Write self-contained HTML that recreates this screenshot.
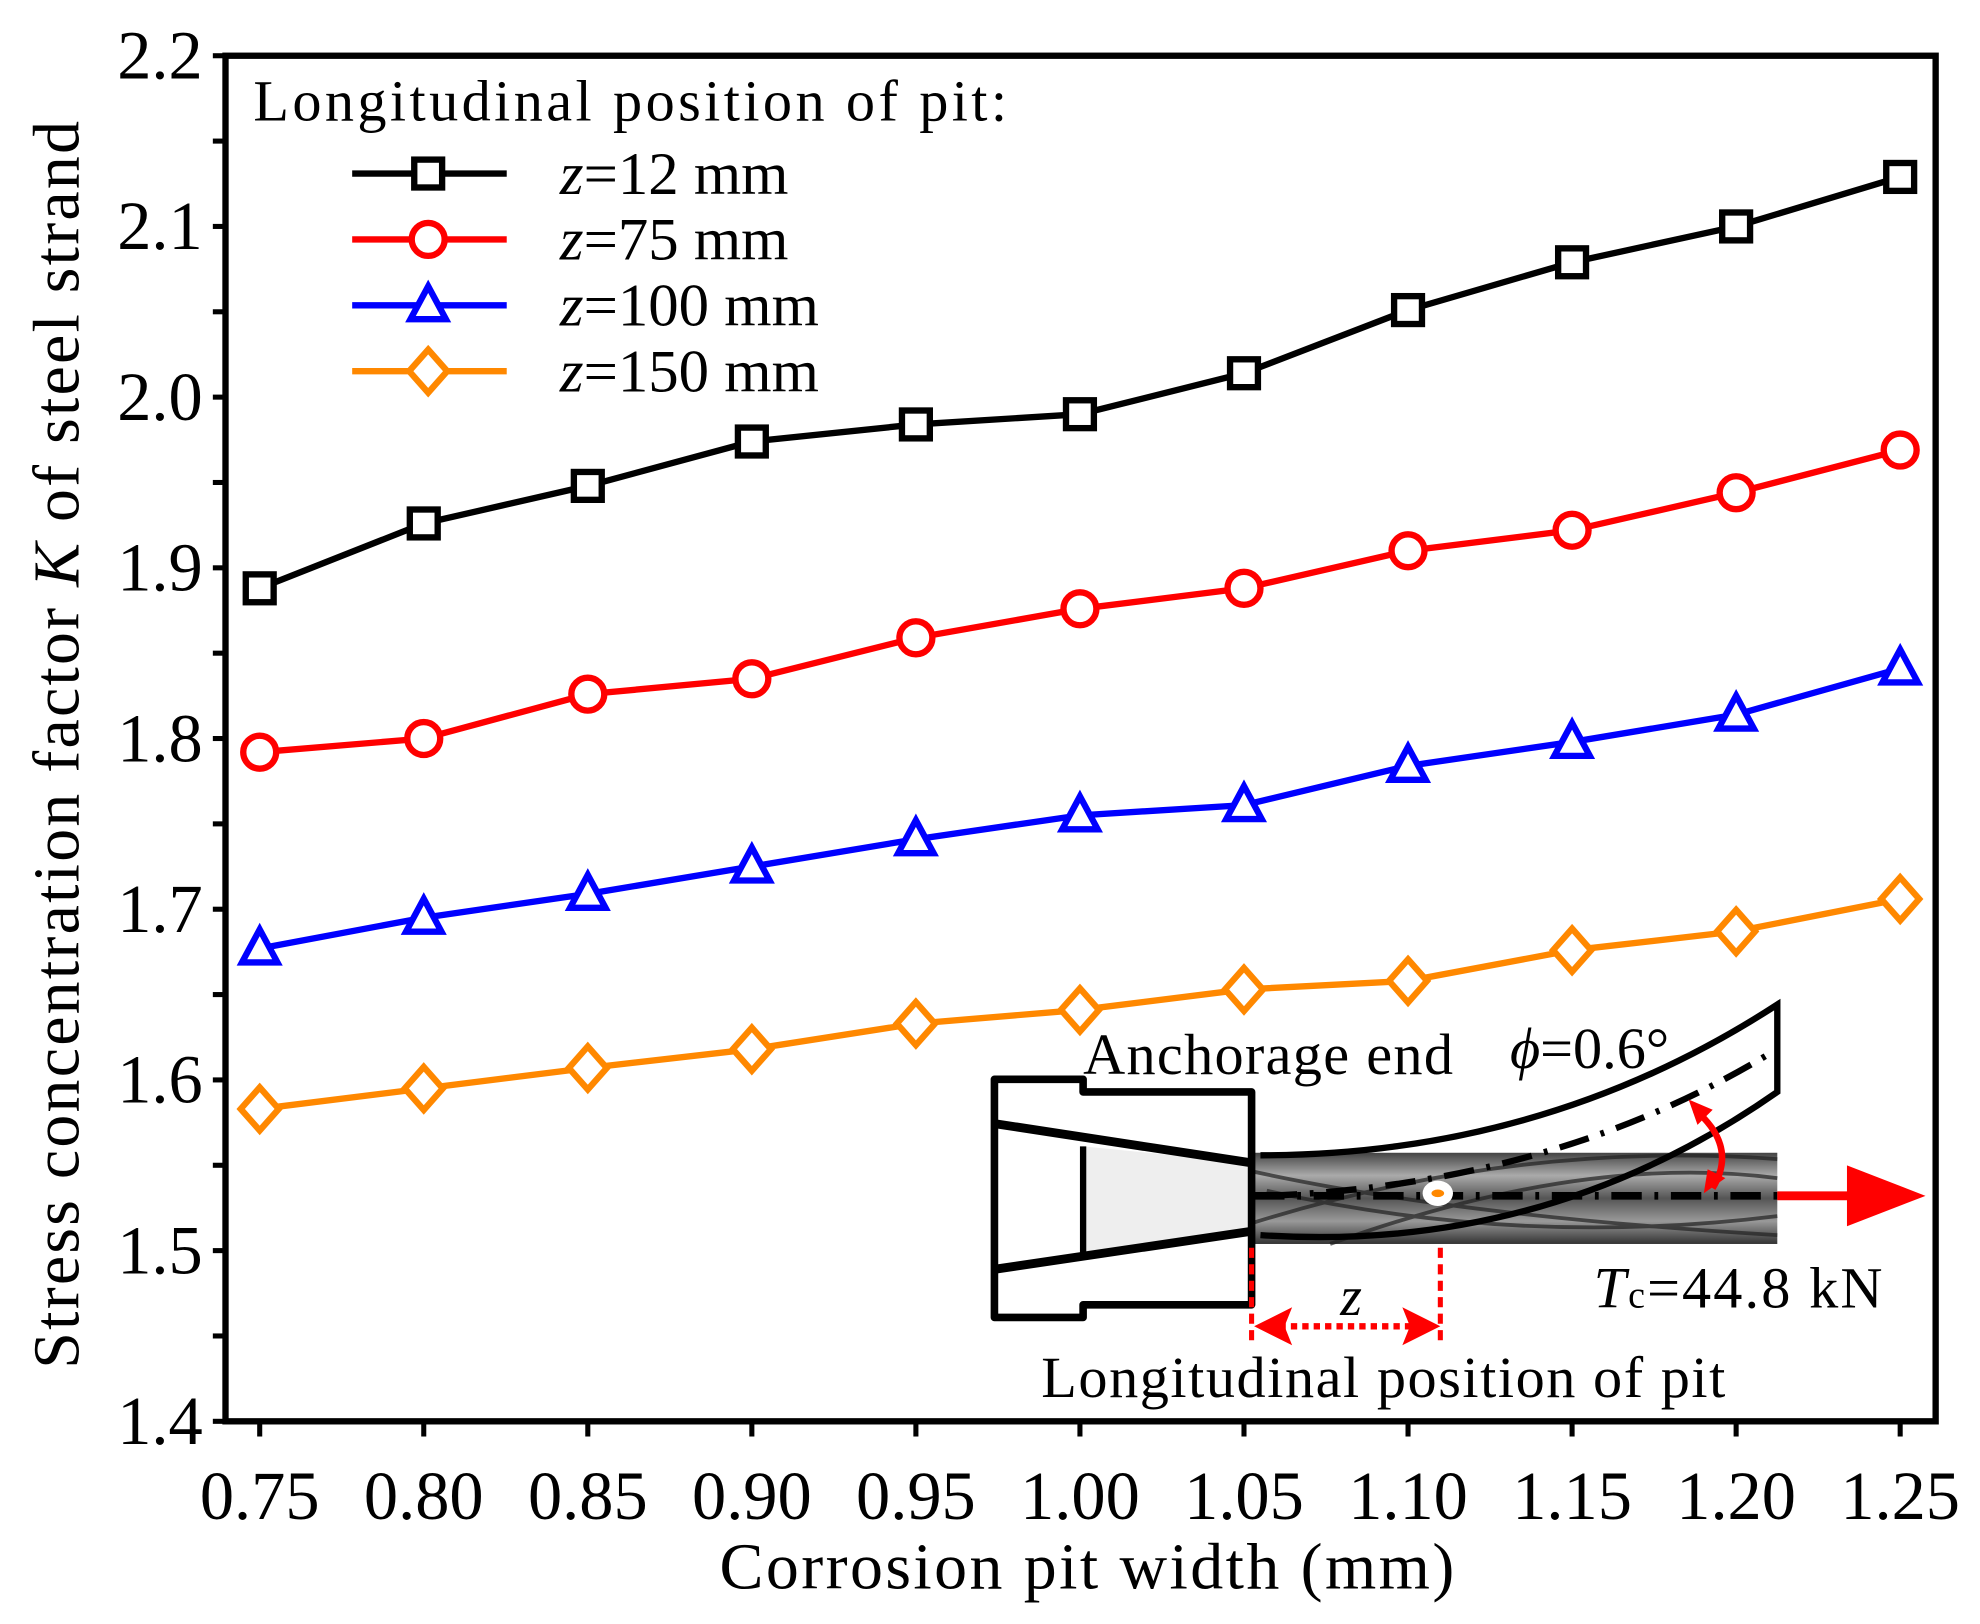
<!DOCTYPE html>
<html><head><meta charset="utf-8"><style>
html,body{margin:0;padding:0;background:#fff}
svg{display:block}
text{font-family:"Liberation Serif",serif;fill:#000}
</style></head><body>
<svg id="chart" width="1980" height="1624" viewBox="0 0 1563 1282" xmlns="http://www.w3.org/2000/svg">
<g id="plot"></g>
<g id="legend">
 <text x="200" y="95" font-size="46" textLength="595" lengthAdjust="spacing">Longitudinal position of pit:</text>
</g>
<g id="inset">
 <defs>
  <linearGradient id="strandG" x1="0" y1="0" x2="0" y2="1">
   <stop offset="0" stop-color="#444"/><stop offset="0.25" stop-color="#aaa"/><stop offset="0.5" stop-color="#555"/><stop offset="0.75" stop-color="#999"/><stop offset="1" stop-color="#333"/>
  </linearGradient>
 </defs>
 <rect x="990" y="910" width="413" height="72" fill="url(#strandG)"/>
 <g stroke="#222" stroke-width="3" fill="none" opacity="0.7">
  <path d="M990 925 Q1150 960 1403 975"/><path d="M990 965 Q1200 900 1403 915"/><path d="M1050 982 Q1250 910 1403 930"/><path d="M1000 940 Q1200 985 1403 960"/>
 </g>
 <polygon points="855,905 988,918 988,972 855,993" fill="#eee"/>
 <path d="M855 862 L855 852 L785 852 L785 1040 L855 1040 L855 1030 L988 1030 L988 862 Z" fill="none" stroke="#000" stroke-width="6" stroke-linejoin="round"/>
 <line x1="785" y1="887" x2="988" y2="918" stroke="#000" stroke-width="7"/>
 <line x1="785" y1="1002" x2="988" y2="972" stroke="#000" stroke-width="7"/>
 <line x1="855" y1="905" x2="855" y2="993" stroke="#000" stroke-width="5"/>
 <path d="M995 912 Q1220 912 1403 793 L1403 862 Q1220 990 995 975" fill="none" stroke="#000" stroke-width="5"/>
 <path d="M1000 944 Q1230 935 1403 828" fill="none" stroke="#000" stroke-width="5" stroke-dasharray="24 10 3 10"/>
 <line x1="990" y1="944" x2="1403" y2="944" stroke="#000" stroke-width="6" stroke-dasharray="24 10 3 10"/>
 <ellipse cx="1135" cy="942" rx="12" ry="10" fill="#fff"/>
 <ellipse cx="1135" cy="942" rx="5" ry="3" fill="#f80"/>
 <g><line x1="1403" y1="944" x2="1465" y2="944" stroke="#f00" stroke-width="7"/><polygon points="1458,920 1520,944 1458,968" fill="#f00"/></g>
 <path d="M1338 876 Q1372 905 1352 938" fill="none" stroke="#f00" stroke-width="5"/>
 <polygon points="1333,868 1352,876 1340,888" fill="#f00"/><polygon points="1345,942 1362,930 1348,923" fill="#f00"/>
 <line x1="988" y1="985" x2="988" y2="1062" stroke="#f00" stroke-width="4" stroke-dasharray="8 5"/>
 <line x1="1137" y1="985" x2="1137" y2="1062" stroke="#f00" stroke-width="4" stroke-dasharray="8 5"/>
 <line x1="1010" y1="1047" x2="1115" y2="1047" stroke="#f00" stroke-width="5" stroke-dasharray="5 4"/>
 <polygon points="990,1047 1020,1032 1014,1047 1020,1062" fill="#f00"/><polygon points="1137,1047 1107,1032 1113,1047 1107,1062" fill="#f00"/>
 <text x="1058" y="1038" font-size="44" font-style="italic">z</text>
 <text x="855" y="848" font-size="46" textLength="292" lengthAdjust="spacing">Anchorage end</text>
 <text x="1192" y="843" font-size="46"><tspan font-style="italic">ϕ</tspan>=0.6°</text>
 <text x="1258" y="1032" font-size="46" textLength="228" lengthAdjust="spacing"><tspan font-style="italic">T</tspan><tspan font-size="30">c</tspan>=44.8 kN</text>
 <text x="822" y="1103" font-size="46" textLength="540" lengthAdjust="spacing">Longitudinal position of pit</text>
</g>
</svg>
<script>
const categories=[0.75,0.80,0.85,0.90,0.95,1.00,1.05,1.10,1.15,1.20,1.25];
const seriesZ12=[1.888,1.926,1.948,1.974,1.984,1.990,2.014,2.051,2.079,2.100,2.129];
const seriesZ75=[1.792,1.800,1.826,1.835,1.859,1.876,1.888,1.910,1.922,1.944,1.969];
const seriesZ100=[1.677,1.695,1.709,1.725,1.741,1.755,1.761,1.784,1.798,1.814,1.841];
const seriesZ150=[1.583,1.595,1.607,1.618,1.633,1.641,1.653,1.658,1.676,1.687,1.706];
const seriesNames=["z=12 mm","z=75 mm","z=100 mm","z=150 mm"];
const yTicks=[1.4,1.5,1.6,1.7,1.8,1.9,2.0,2.1,2.2];
const xTickLabels=["0.75","0.80","0.85","0.90","0.95","1.00","1.05","1.10","1.15","1.20","1.25"];
const yTickLabels=["1.4","1.5","1.6","1.7","1.8","1.9","2.0","2.1","2.2"];

const NS="http://www.w3.org/2000/svg";
const L=178,R=1528,T=44,B=1122;
const xs=v=>205+(v-0.75)/0.5*(1500-205);
const ys=v=>B-(v-1.4)/0.8*(B-T);
function mk(tag,attrs,parent){const e=document.createElementNS(NS,tag);for(const k in attrs)e.setAttribute(k,attrs[k]);parent.appendChild(e);return e;}
const plot=document.getElementById('plot');
const legend=document.getElementById('legend');

const frame=mk('rect',{x:L,y:T,width:R-L,height:B-T,fill:'none',stroke:'#000','stroke-width':5},plot);



for(let v=1.4;v<=2.2001;v+=0.05){
  const t=mk('line',{x1:L-10,x2:L,y1:ys(v),y2:ys(v),stroke:'#000','stroke-width':4},plot);
  
  
}
yTicks.forEach((v,i)=>{
  const t=mk('text',{x:160,y:ys(v)+18,'font-size':54,'text-anchor':'end'},plot);
  t.textContent=yTickLabels[i];
  
  
});
categories.forEach((v,i)=>{
  const t=mk('line',{x1:xs(v),x2:xs(v),y1:B,y2:B+12,stroke:'#000','stroke-width':4},plot);
  
  
  const l=mk('text',{x:xs(v),y:B+77,'font-size':54,'text-anchor':'middle'},plot);
  l.textContent=xTickLabels[i];
  
  
});
const xt=mk('text',{x:858,y:1254,'font-size':52,'text-anchor':'middle',textLength:580,lengthAdjust:'spacing'},plot);
xt.textContent='Corrosion pit width (mm)';


const yt=mk('text',{x:0,y:0,'font-size':52,'text-anchor':'middle',textLength:985,lengthAdjust:'spacing',transform:'translate(62 588) rotate(-90)'},plot);
yt.innerHTML='Stress concentration factor <tspan font-style="italic">K</tspan> of steel strand';



function marker(kind,x,y,color,parent){
  let e;
  if(kind==='square')e=mk('rect',{x:x-11,y:y-11,width:22,height:22},parent);
  else if(kind==='circle')e=mk('circle',{cx:x,cy:y,r:13},parent);
  else if(kind==='triangle')e=mk('polygon',{points:`${x},${y-15} ${x+14},${y+11} ${x-14},${y+11}`},parent);
  else e=mk('polygon',{points:`${x},${y-17} ${x+15},${y} ${x},${y+17} ${x-15},${y}`},parent);
  e.setAttribute('fill','#fff');e.setAttribute('stroke',color);e.setAttribute('stroke-width',5);
  return e;
}
const allSeries=[seriesZ12,seriesZ75,seriesZ100,seriesZ150];
const colors=['#000','#f00','#00f','#f80'];
const kinds=['square','circle','triangle','diamond'];
allSeries.forEach((s,k)=>{
  const g=mk('g',{},plot);
  
  
  const ln=mk('polyline',{points:s.map((v,i)=>xs(categories[i])+','+ys(v)).join(' '),fill:'none',stroke:colors[k],'stroke-width':5},g);
  
  
  s.forEach((v,i)=>{
    const m=marker(kinds[k],xs(categories[i]),ys(v),colors[k],g);
    
    
  });
  const ly=137+k*52;
  const lg=mk('g',{},legend);
  
  
  mk('line',{x1:278,x2:400,y1:ly,y2:ly,stroke:colors[k],'stroke-width':5},lg);
  marker(kinds[k],338,ly,colors[k],lg);
  const t=mk('text',{x:442,y:ly+16,'font-size':48},lg);
  const parts=seriesNames[k].split('=');
  t.innerHTML='<tspan font-style="italic">'+parts[0]+'</tspan>='+parts[1];
});
</script>
</body></html>
